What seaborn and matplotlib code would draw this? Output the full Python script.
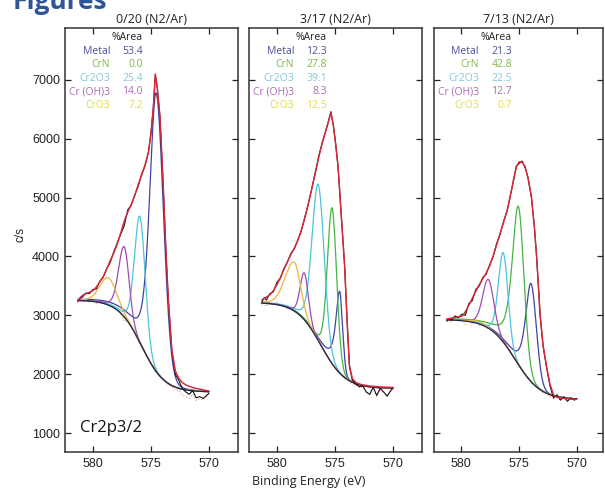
import numpy as np
import pandas as pd
import matplotlib
matplotlib.use("Agg")
import matplotlib.pyplot as plt
import seaborn as sns

# ---- labels / colours -------------------------------------------------
components = ["Metal", "CrN", "Cr2O3", "Cr (OH)3", "CrO3"]
line_colors = ["#3f44a6", "#45b545", "#4cc4da", "#a04ab4", "#f0b43a"]
text_colors = ["#4b5096", "#7db84a", "#86c8d6", "#a86db2", "#e2dc48"]
titles = ["0/20 (N2/Ar)", "3/17 (N2/Ar)", "7/13 (N2/Ar)"]

area_1 = [53.4, 0.0, 25.4, 14.0, 7.2]
area_2 = [12.3, 27.8, 39.1, 8.3, 12.5]
area_3 = [21.3, 42.8, 22.5, 12.7, 0.7]

# ---- measured spectra (black) and fit envelopes (red) -----------------
e1 = [581.3, 581.1, 580.9, 580.6, 580.3, 580.0, 579.7, 579.4, 579.1, 578.8, 578.5,
      578.2, 577.9, 577.6, 577.3, 577.0, 576.7, 576.4, 576.1, 575.8, 575.5, 575.2,
      575.0, 574.8, 574.62, 574.45, 574.22, 573.94, 573.7, 573.5, 573.2, 572.9,
      572.6, 572.3, 572.0, 571.7, 571.4, 571.1, 570.8, 570.5, 570.2, 570.0]
fit1 = [3250, 3300, 3340, 3370, 3390, 3420, 3480, 3570, 3660, 3790, 3930,
        4060, 4210, 4400, 4600, 4750, 4880, 5030, 5220, 5380, 5560, 5780,
        6100, 6500, 7100, 6850, 6380, 5190, 4060, 3270, 2420, 2060,
        1930, 1860, 1820, 1795, 1775, 1760, 1748, 1735, 1722, 1715]
raw1 = [3230, 3290, 3310, 3380, 3370, 3440, 3450, 3580, 3650, 3800, 3900,
        4080, 4230, 4380, 4520, 4790, 4870, 5040, 5190, 5400, 5540, 5790,
        6080, 6520, 7080, 6870, 6360, 5210, 4050, 3250, 2400, 2000,
        1900, 1760, 1700, 1660, 1720, 1600, 1620, 1590, 1640, 1680]

e2 = [581.3, 581.1, 580.9, 580.6, 580.3, 580.0, 579.7, 579.4, 579.1, 578.8, 578.5,
      578.2, 577.9, 577.6, 577.3, 577.0, 576.7, 576.4, 576.1, 575.8, 575.55, 575.35,
      575.15, 574.95, 574.73, 574.45, 574.16, 573.95, 573.75, 573.5, 573.2, 572.9,
      572.6, 572.3, 572.0, 571.7, 571.4, 571.1, 570.8, 570.5, 570.2, 570.0]
fit2 = [3260, 3290, 3310, 3350, 3420, 3520, 3640, 3780, 3910, 4030, 4140,
        4270, 4440, 4650, 4890, 5140, 5420, 5680, 5930, 6120, 6300, 6440,
        6250, 5930, 5530, 4680, 3835, 2900, 2150, 1930, 1860, 1835,
        1820, 1810, 1800, 1795, 1790, 1785, 1782, 1780, 1778, 1776]
raw2 = [3220, 3300, 3260, 3370, 3400, 3560, 3630, 3790, 3900, 4050, 4130,
        4280, 4430, 4660, 4880, 5150, 5400, 5700, 5920, 6130, 6300, 6460,
        6240, 5940, 5520, 4700, 3820, 2920, 2130, 1900, 1830, 1790,
        1800, 1700, 1660, 1780, 1640, 1760, 1700, 1630, 1720, 1770]

e3 = [581.2, 581.0, 580.8, 580.5, 580.2, 579.9, 579.6, 579.3, 579.0, 578.7, 578.4,
      578.1, 577.8, 577.5, 577.2, 576.9, 576.6, 576.3, 576.0, 575.7, 575.45, 575.2,
      574.95, 574.7, 574.45, 574.2, 573.9, 573.65, 573.45, 573.15, 572.9, 572.6,
      572.3, 572.0, 571.7, 571.4, 571.1, 570.8, 570.5, 570.2, 570.0]
fit3 = [2935, 2945, 2955, 2965, 2975, 2985, 3060, 3170, 3290, 3410, 3520,
        3620, 3720, 3840, 4010, 4200, 4390, 4580, 4780, 5040, 5300, 5520,
        5610, 5600, 5530, 5330, 5020, 4500, 4000, 2990, 2500, 2140,
        1830, 1650, 1610, 1598, 1590, 1585, 1580, 1577, 1575]
raw3 = [2900, 2950, 2920, 2990, 2960, 3020, 3000, 3200, 3250, 3440, 3500,
        3640, 3700, 3860, 4000, 4220, 4380, 4600, 4770, 5060, 5280, 5540,
        5580, 5620, 5510, 5350, 5000, 4520, 3980, 3010, 2480, 2120,
        1800, 1600, 1650, 1560, 1620, 1540, 1600, 1560, 1590]

# ---- fitted components: background step + peak parameters -------------
# background: [high-BE level, low-BE level, step centre (eV), step width (eV)]
bg_1 = [3260, 1700, 575.8, 1.0]
bg_2 = [3220, 1760, 576.2, 1.05]
bg_3 = [2930, 1570, 575.3, 1.1]
# per component (Metal, CrN, Cr2O3, Cr(OH)3, CrO3); eta = Lorentzian share of high-BE tail
centre_1 = [574.55, 575.2, 575.95, 577.3, 578.68]
height_1 = [4730, 0, 2140, 1190, 460]
hw_low_1 = [0.74, 0.5, 0.55, 0.50, 0.85]
hw_high_1 = [0.66, 0.5, 0.55, 0.57, 0.85]
eta_1 = [0.45, 0.2, 0.2, 0.2, 0.2]

centre_2 = [574.59, 575.25, 576.44, 577.64, 578.5]
height_2 = [1390, 2645, 2650, 795, 827]
hw_low_2 = [0.30, 0.47, 0.62, 0.42, 0.65]
hw_high_2 = [0.40, 0.47, 0.62, 0.42, 0.92]
eta_2 = [0.8, 0.2, 0.2, 0.2, 0.2]

centre_3 = [573.94, 575.03, 576.33, 577.62, 578.5]
height_3 = [1666, 2685, 1516, 827, 40]
hw_low_3 = [0.55, 0.58, 0.49, 0.57, 0.8]
hw_high_3 = [0.55, 0.63, 0.49, 0.57, 0.8]
eta_3 = [0.6, 0.6, 0.2, 0.2, 0.2]

LOW_SIDE_ETA = 0.05


def background(e, high, low, mid, s):
    return low + (high - low) / (1 + np.exp(-(e - mid) / s))


def peak(e, c, h, w_lo, w_hi, eta):
    hi = e >= c
    w = np.where(hi, w_hi, w_lo)
    m = np.where(hi, eta, LOW_SIDE_ETA)
    u = (e - c) / w
    return h * ((1 - m) * np.exp(-np.log(2) * u ** 2) + m / (1 + u ** 2))


panels = [
    (e1, fit1, raw1, bg_1, centre_1, height_1, hw_low_1, hw_high_1, eta_1, area_1),
    (e2, fit2, raw2, bg_2, centre_2, height_2, hw_low_2, hw_high_2, eta_2, area_2),
    (e3, fit3, raw3, bg_3, centre_3, height_3, hw_low_3, hw_high_3, eta_3, area_3),
]

sns.set_theme(style="ticks")
plt.rcParams["font.family"] = ["Liberation Sans", "DejaVu Sans"]

W, H = 605, 488
fig = plt.figure(figsize=(W / 100, H / 100), dpi=100)

# axes boxes in pixels: left, width, xlim
boxes = [(65, 173, (582.4, 567.5)), (249, 173, (582.4, 567.5)), (434, 169, (582.3, 567.73))]
top_px, bot_px = 28, 452

for i, (box, pan) in enumerate(zip(boxes, panels)):
    left, width, xlim = box
    e, fit, raw, bgp, cen, hgt, wlo, whi, eta, area = pan
    ax = fig.add_axes([left / W, 1 - bot_px / H, width / W, (bot_px - top_px) / H])
    e = np.array(e)
    grid = np.linspace(e.min(), e.max(), 700)
    bg_grid = background(grid, *bgp)

    resid = background(e, *bgp) + np.array(raw) - np.array(fit)
    sns.lineplot(x=e, y=resid, ax=ax, color="#f3a3a6", lw=0.9, ls=(0, (1, 1.5)),
                 estimator=None, zorder=1)
    for k in range(5):
        comp = bg_grid + peak(grid, cen[k], hgt[k], wlo[k], whi[k], eta[k])
        sns.lineplot(x=grid, y=comp, ax=ax, color=line_colors[k], lw=0.9,
                     estimator=None, zorder=2)
    sns.lineplot(x=grid, y=bg_grid, ax=ax, color="#25254a", lw=0.9, estimator=None, zorder=3)
    sns.lineplot(x=e, y=raw, ax=ax, color="#111111", lw=0.8, estimator=None, zorder=4)
    sns.lineplot(x=e, y=fit, ax=ax, color="#d8283c", lw=1.05, estimator=None, zorder=5)

    ax.set_xlim(*xlim)
    ax.set_ylim(680, 7880)
    ax.set_xticks([580, 575, 570])
    ax.set_yticks(range(1000, 8000, 1000))
    ax.set_xlabel("")
    ax.set_ylabel("")
    ax.tick_params(direction="in", top=True, right=True, length=4.5, width=0.9,
                   labelsize=9, colors="#222222", pad=3.5)
    ax.tick_params(axis="x", pad=4)
    if i > 0:
        ax.tick_params(labelleft=False)
    for sp in ax.spines.values():
        sp.set_linewidth(1.1)
        sp.set_color("#333333")
    ax.set_title(titles[i], fontsize=9, pad=3.5, family="Open Sans", color="#222222")

    # %Area table
    hpx = bot_px - top_px
    xl = 45 / width
    xv = 78 / width
    ax.text(xv, 1 - 9 / hpx, "%Area", transform=ax.transAxes, ha="right", va="center",
            fontsize=7.5, family="Open Sans", color="#222222")
    for k in range(5):
        y = 1 - (23 + 13.6 * k) / hpx
        ax.text(xl, y, components[k], transform=ax.transAxes, ha="right", va="center",
                fontsize=7.5, family="Open Sans", color=text_colors[k])
        ax.text(xv, y, f"{area[k]:.1f}", transform=ax.transAxes, ha="right", va="center",
                fontsize=7.5, family="Open Sans", color=text_colors[k])

    if i == 0:
        ax.text(15 / width, 24 / hpx, "Cr2p3/2", transform=ax.transAxes, ha="left",
                va="center", fontsize=12, family="Open Sans", color="#111111")

fig.text(20 / W, 1 - 235 / H, "c/s", rotation=90, ha="center", va="center",
         fontsize=8.5, color="#222222")
fig.text(252 / W, 1 - 482 / H, "Binding Energy (eV)", ha="left", va="center",
         fontsize=9, family="Open Sans", color="#222222")
# slide heading, cut off by the top edge as in the source screenshot
fig.text(13 / W, 1 - 9 / H, "Figures", ha="left", va="baseline", fontsize=19,
         fontweight="bold", family="Open Sans", color="#2f5597")

fig.savefig("out.png", dpi=100)
